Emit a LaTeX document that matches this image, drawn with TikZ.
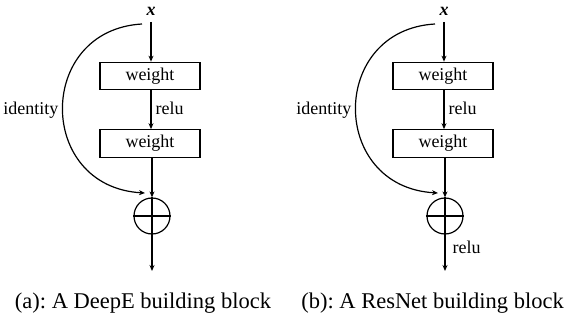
\documentclass[tikz,border=0pt]{standalone}
\usepackage{fontspec}
\setmainfont{Liberation Serif}
\usetikzlibrary{arrows.meta}
\frenchspacing
\begin{document}
\begin{tikzpicture}[x=1pt,y=-1pt,
  line width=1.2pt,
  arr/.style={-{Stealth[length=6pt,width=5pt]}},
  wbox/.style={draw,minimum width=100pt,minimum height=27.5pt,inner sep=0pt,font=\fontsize{18}{20}\selectfont},
  plus/.style={draw,circle,minimum size=36pt,inner sep=0pt},
  lbl/.style={font=\fontsize{18}{20}\selectfont,inner sep=0pt},
  captxt/.style={font=\fontsize{22.5}{25}\selectfont,inner sep=0pt}]
\useasboundingbox (0,0) rectangle (566,329);
% ---- left panel
\node[lbl] (xa) at (151,11) {\textbf{\textit{x}}};
\coordinate (ta) at (151,22);
\node[wbox] (w1a) at (150,76) {weight};
\node[wbox] (w2a) at (150,143.5) {weight};
\node[plus] (pa) at (152,216) {};
\draw (pa.north) -- (pa.south) (pa.west) -- (pa.east);
\coordinate (ea) at (152,271);
\coordinate (sa) at (142,24);
\coordinate (ia) at (145,193);
\draw[arr] (ta) -- (ta |- w1a.north);
\draw[arr] (w1a.south -| ta) -- (ta |- w2a.north);
\draw[arr] (w2a.south -| pa) -- (pa.north);
\draw[arr] (pa.south) -- (ea);
\draw[arr] (sa) .. controls (36,30) and (36,187) .. (ia);
\node[lbl,anchor=east] (ida) at (59,110) {identity};
\node[lbl,anchor=west] (ra) at (155,108) {relu};
\node[captxt] (capa) at (143,303) {(a): A DeepE building block};
% ---- right panel
\node[lbl] (xb) at (444,11) {\textbf{\textit{x}}};
\coordinate (tb) at (444,22);
\node[wbox] (w1b) at (443,76) {weight};
\node[wbox] (w2b) at (443,143.5) {weight};
\node[plus] (pb) at (445,216) {};
\draw (pb.north) -- (pb.south) (pb.west) -- (pb.east);
\coordinate (eb) at (445,271);
\coordinate (sb) at (435,24);
\coordinate (ib) at (438,193);
\draw[arr] (tb) -- (tb |- w1b.north);
\draw[arr] (w1b.south -| tb) -- (tb |- w2b.north);
\draw[arr] (w2b.south -| pb) -- (pb.north);
\draw[arr] (pb.south) -- (eb);
\draw[arr] (sb) .. controls (329,30) and (329,187) .. (ib);
\node[lbl,anchor=east] (idb) at (352,110) {identity};
\node[lbl,anchor=west] (rb) at (448,108) {relu};
\node[lbl,anchor=west] (rc) at (452,247) {relu};
\node[captxt] (capb) at (432.5,303) {(b): A ResNet building block};
\end{tikzpicture}
\end{document}
